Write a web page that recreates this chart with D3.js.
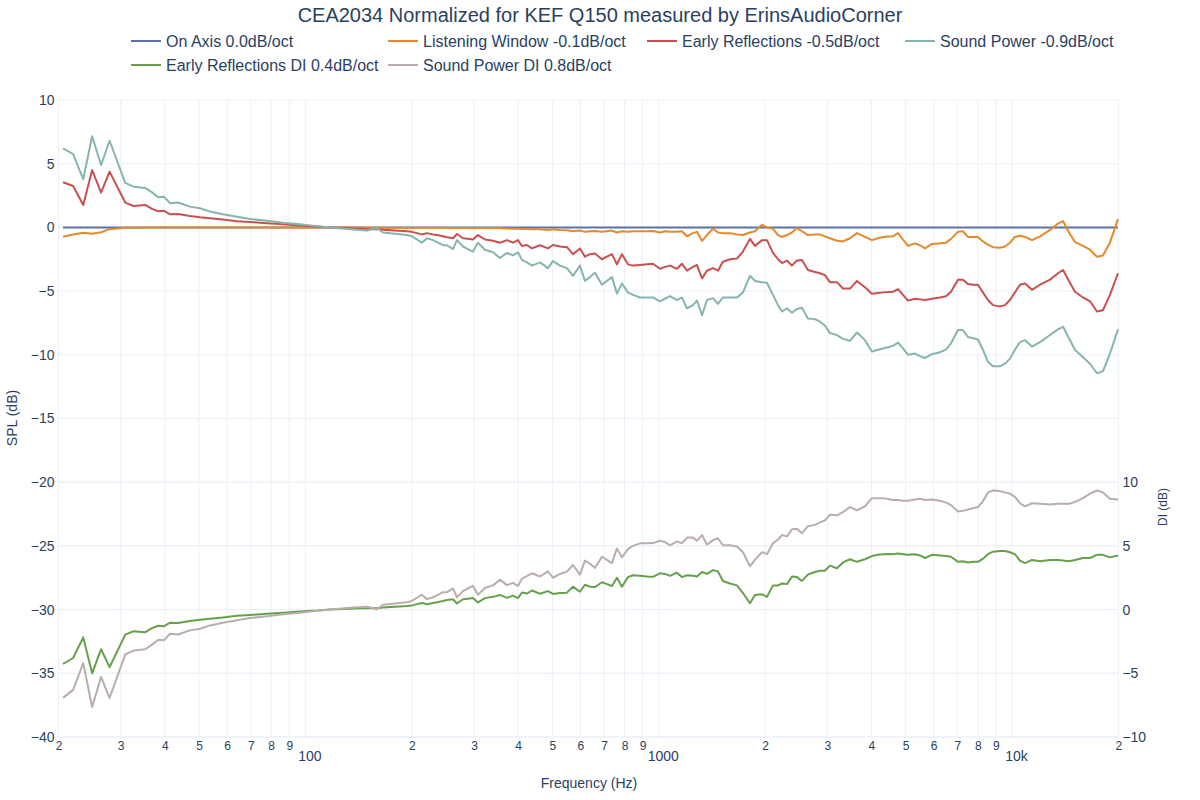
<!DOCTYPE html>
<html><head><meta charset="utf-8">
<script src="https://cdn.jsdelivr.net/npm/d3@7"></script>
<style>
body{margin:0;background:#fff}
svg text{font-family:"Liberation Sans",Arial,Helvetica,sans-serif;fill:#2a3f5f}
</style>
</head><body>
<svg id="chart" width="1200" height="800"></svg>
<script>
const title = "CEA2034 Normalized for KEF Q150 measured by ErinsAudioCorner";
const seriesNames = ["On Axis 0.0dB/oct","Listening Window -0.1dB/oct","Early Reflections -0.5dB/oct","Sound Power -0.9dB/oct","Early Reflections DI 0.4dB/oct","Sound Power DI 0.8dB/oct"];
const seriesColors = ["#5a72a8","#e4892c","#c9504f","#86b5b0","#66a04c","#b9aeab"];

const freq = [20.6,22.0,23.5,24.9,26.4,27.9,30.9,32.6,35.2,36.8,38.3,39.8,41.4,43.6,47.1,50.3,53.7,58.4,64.0,69.7,77.9,86.4,96.5,107.8,117.4,133.7,149.4,159.4,165.8,179.3,
193.8,200.1,206.9,213.6,220.8,229.6,235.7,245.1,251.5,261.6,268.5,279.2,288.4,298.0,307.8,322.2,339.5,355.3,371.9,386.7,399.5,410.1,423.6,437.7,461.1,485.8,501.8,525.3,549.8,571.7,
598.4,618.2,638.7,659.8,690.6,713.5,737.1,761.6,786.7,818.1,845.3,884.8,926.0,962.9,1008,1041,1076,1126,1163,1202,1250,1283,1326,1369,1424,1471,1519,1591,1665,1731,
1812,1872,1960,2025,2105,2175,2233,2307,2382,2461,2543,2644,2768,2860,2954,3052,3194,3322,3477,3639,3834,4013,4174,4312,4455,4603,4756,4913,5076,5313,
5488,5670,5935,6252,6502,6718,7031,7261,7502,7750,8007,8272,8546,8829,9242,9548,9865,10190,10530,10880,11390,12000,12810,13490,13940,14490,15070,15880,16620,17390,
18080,18930,19950];

const onAxisFreq = [20.6, 19950];
const onAxis = [0, 0];

const listeningWindow = [-0.73,-0.55,-0.42,-0.5,-0.38,-0.14,-0.02,-0.02,-0.01,0,0,0,0,0,0,0,0,0,0,0,0,0,0,0,0,0,-0.02,-0.02,-0.02,-0.02,
-0.02,-0.02,-0.02,-0.03,-0.03,-0.03,-0.03,-0.03,-0.03,-0.04,-0.04,-0.04,-0.04,-0.04,-0.04,-0.05,-0.05,-0.05,-0.08,-0.1,-0.1,-0.12,-0.12,-0.15,-0.15,-0.2,-0.15,-0.2,-0.22,-0.3,
-0.25,-0.35,-0.3,-0.28,-0.35,-0.3,-0.25,-0.4,-0.3,-0.35,-0.3,-0.3,-0.3,-0.28,-0.4,-0.3,-0.35,-0.35,-0.3,-0.7,-0.45,-0.35,-1.05,-0.6,-0.1,-0.4,-0.45,-0.45,-0.55,-0.6,
-0.4,-0.3,0.2,0.0,-0.1,-0.6,-0.75,-0.6,-0.4,-0.05,-0.3,-0.6,-0.55,-0.55,-0.7,-0.85,-1.05,-1.1,-0.85,-0.45,-0.75,-1.0,-0.85,-0.75,-0.72,-0.7,-0.45,-0.95,-1.45,-1.25,
-1.4,-1.65,-1.3,-1.25,-1.2,-0.9,-0.35,-0.3,-0.75,-0.75,-0.75,-1.1,-1.35,-1.55,-1.6,-1.5,-1.2,-0.75,-0.65,-0.75,-1.0,-0.7,-0.2,0.3,0.5,-0.4,-1.15,-1.45,-1.75,-2.3,
-2.2,-1.2,0.65];

const earlyReflections = [3.54,3.25,1.76,4.5,2.73,4.38,1.95,1.68,1.76,1.45,1.27,1.3,1.03,1.05,0.9,0.8,0.72,0.62,0.48,0.42,0.33,0.24,0.15,0.08,0,-0.07,-0.15,-0.12,-0.18,-0.25,
-0.3,-0.35,-0.45,-0.55,-0.45,-0.55,-0.6,-0.7,-0.78,-0.85,-0.52,-0.85,-0.9,-0.95,-0.6,-0.95,-1.05,-1.2,-1.0,-1.2,-1.0,-1.46,-1.38,-1.65,-1.4,-1.65,-1.38,-1.5,-1.55,-2.1,
-1.65,-2.3,-2.1,-2.05,-2.5,-2.3,-2.1,-2.9,-2.1,-2.9,-3.0,-2.95,-2.9,-2.85,-3.25,-3.1,-3.0,-3.25,-2.85,-3.4,-3.1,-2.95,-4.0,-3.4,-3.2,-3.4,-2.7,-2.5,-2.45,-1.9,
-0.9,-1.45,-1.0,-1.0,-2.0,-2.5,-2.8,-2.6,-3.0,-2.6,-2.55,-3.35,-3.5,-3.6,-3.75,-4.3,-4.3,-4.8,-4.8,-4.2,-4.7,-5.2,-5.15,-5.1,-5.08,-5.05,-4.85,-5.3,-5.75,-5.6,
-5.65,-5.7,-5.6,-5.5,-5.4,-5.05,-4.1,-4.1,-4.45,-4.5,-4.5,-5.1,-5.7,-6.1,-6.2,-6.1,-5.7,-5.1,-4.5,-4.4,-4.9,-4.5,-4.1,-3.6,-3.35,-4.2,-5.05,-5.5,-5.8,-6.6,
-6.5,-5.3,-3.6];

const soundPower = [6.2,5.75,3.78,7.15,4.9,6.8,3.5,3.2,3.1,2.75,2.37,2.4,1.9,1.95,1.63,1.5,1.24,1.03,0.84,0.66,0.53,0.37,0.24,0.1,0,-0.15,-0.25,-0.05,-0.4,-0.5,
-0.6,-0.7,-0.95,-1.2,-0.85,-1.0,-1.15,-1.4,-1.4,-1.7,-1.0,-1.5,-1.7,-1.9,-1.2,-1.75,-1.95,-2.4,-2.0,-2.2,-1.95,-2.55,-2.75,-3.0,-2.75,-3.2,-2.65,-3.0,-3.2,-3.8,
-3.0,-4.2,-3.9,-3.55,-4.5,-4.2,-3.9,-5.2,-4.4,-5.1,-5.3,-5.5,-5.5,-5.5,-5.8,-5.6,-5.4,-5.7,-5.5,-6.35,-6.1,-5.75,-6.9,-5.7,-5.55,-6.0,-5.5,-5.5,-5.5,-5.1,
-3.8,-4.2,-4.3,-4.35,-5.3,-6.1,-6.6,-6.35,-6.7,-6.4,-6.3,-7.15,-7.2,-7.4,-7.7,-8.3,-8.45,-8.75,-8.9,-8.25,-8.85,-9.75,-9.6,-9.5,-9.4,-9.3,-9.05,-9.5,-10.0,-9.9,
-10.1,-10.25,-9.95,-9.8,-9.6,-9.1,-8.05,-8.05,-8.6,-8.7,-8.8,-9.6,-10.55,-10.9,-10.9,-10.7,-10.3,-9.6,-9.0,-8.85,-9.35,-9.0,-8.45,-8.0,-7.8,-8.7,-9.6,-10.2,-10.7,-11.45,
-11.3,-9.9,-8.0];

const earlyReflectionsDI = [-4.27,-3.8,-2.18,-5.0,-3.11,-4.52,-1.97,-1.7,-1.77,-1.45,-1.27,-1.3,-1.03,-1.05,-0.9,-0.8,-0.72,-0.62,-0.48,-0.42,-0.33,-0.24,-0.15,-0.08,0,0.07,0.13,0.1,0.16,0.23,
0.28,0.33,0.43,0.52,0.42,0.52,0.57,0.67,0.75,0.81,0.48,0.81,0.86,0.91,0.56,0.9,1.0,1.15,0.92,1.1,0.9,1.34,1.26,1.5,1.25,1.45,1.23,1.3,1.33,1.8,
1.4,1.95,1.8,1.77,2.15,2.0,1.85,2.5,1.8,2.55,2.7,2.65,2.6,2.57,2.85,2.8,2.65,2.9,2.55,2.7,2.65,2.6,2.95,2.8,3.1,3.0,2.25,2.05,1.9,1.3,
0.5,1.15,1.2,1.0,1.9,1.9,2.05,2.0,2.6,2.55,2.25,2.75,2.95,3.05,3.05,3.45,3.25,3.7,3.95,3.75,3.95,4.2,4.3,4.35,4.36,4.35,4.4,4.35,4.3,4.35,
4.25,4.05,4.3,4.25,4.2,4.15,3.75,3.8,3.7,3.75,3.75,4.0,4.35,4.55,4.6,4.6,4.5,4.35,3.85,3.65,3.9,3.8,3.9,3.9,3.85,3.8,3.9,4.05,4.05,4.3,
4.3,4.1,4.25];

const soundPowerDI = [-6.93,-6.3,-4.2,-7.65,-5.28,-6.94,-3.52,-3.22,-3.11,-2.75,-2.37,-2.4,-1.9,-1.95,-1.63,-1.5,-1.24,-1.03,-0.84,-0.66,-0.53,-0.37,-0.24,-0.1,0,0.15,0.23,0.03,0.38,0.48,
0.58,0.68,0.93,1.17,0.82,0.97,1.12,1.37,1.37,1.66,0.96,1.46,1.66,1.86,1.16,1.7,1.9,2.35,1.92,2.1,1.85,2.43,2.63,2.85,2.6,3.0,2.5,2.8,2.98,3.5,
2.75,3.85,3.6,3.27,4.15,3.9,3.65,4.8,4.1,4.75,5.0,5.2,5.2,5.22,5.4,5.3,5.05,5.35,5.2,5.65,5.65,5.4,5.85,5.1,5.45,5.6,5.05,5.05,4.95,4.5,
3.4,3.9,4.5,4.35,5.2,5.5,5.85,5.75,6.3,6.35,6.0,6.55,6.65,6.85,7.0,7.45,7.4,7.65,8.05,7.8,8.1,8.75,8.75,8.75,8.68,8.6,8.6,8.55,8.55,8.65,
8.7,8.6,8.65,8.55,8.4,8.2,7.7,7.75,7.85,7.95,8.05,8.5,9.2,9.35,9.3,9.2,9.1,8.85,8.35,8.1,8.35,8.3,8.25,8.3,8.3,8.3,8.45,8.75,9.1,9.35,
9.2,8.7,8.65];

const splTicks = [-40,-35,-30,-25,-20,-15,-10,-5,0,5,10];
const diTicks = [-10,-5,0,5,10];
const xGridFreqs = [20,30,40,50,60,70,80,90,100,200,300,400,500,600,700,800,900,1000,2000,3000,4000,5000,6000,7000,8000,9000,10000,20000];
const xMinorLabelFreqs = [20,30,40,50,60,70,80,90,200,300,400,500,600,700,800,900,2000,3000,4000,5000,6000,7000,8000,9000,20000];
const xMajorLabelFreqs = [100,1000,10000];
const xMajorLabels = ["100","1000","10k"];

const svg = d3.select("#chart");
const L = 58.5, R = 1118.4, T = 100, B = 737;
const x = d3.scaleLog().domain([20,20000]).range([L,R]);
const y = d3.scaleLinear().domain([-40,10]).range([B,T]);
const yDI = d3.scaleLinear().domain([-10,10]).range([B, y(-20)]);
const gridColor = "#ebf0f8";

// grid
svg.append("g").selectAll("line").data(xGridFreqs).join("line")
  .attr("x1", d=>x(d)).attr("x2", d=>x(d)).attr("y1", T).attr("y2", B)
  .attr("stroke", gridColor).attr("stroke-width", 1);
svg.append("g").selectAll("line").data(splTicks).join("line")
  .attr("x1", L).attr("x2", R).attr("y1", d=>y(d)).attr("y2", d=>y(d))
  .attr("stroke", gridColor).attr("stroke-width", 1);
svg.append("g").selectAll("line").data(diTicks).join("line")
  .attr("x1", L).attr("x2", R).attr("y1", d=>yDI(d)).attr("y2", d=>yDI(d))
  .attr("stroke", gridColor).attr("stroke-width", 1);

// axes
const gl = svg.append("g").attr("transform", `translate(${L},0)`)
  .call(d3.axisLeft(y).tickValues(splTicks).tickSize(0).tickPadding(4));
gl.select(".domain").remove();
gl.selectAll("text").attr("font-size", 14).style("font-family", null);

const gr = svg.append("g").attr("transform", `translate(${R},0)`)
  .call(d3.axisRight(yDI).tickValues(diTicks).tickSize(0).tickPadding(4));
gr.select(".domain").remove();
gr.selectAll("text").attr("font-size", 14).style("font-family", null);

const gb = svg.append("g").attr("transform", `translate(0,${B})`)
  .call(d3.axisBottom(x).tickValues(xMinorLabelFreqs).tickSize(0).tickPadding(4)
    .tickFormat(d => String(Math.round(d / Math.pow(10, Math.floor(Math.log10(d)+1e-9))))));
gb.select(".domain").remove();
gb.selectAll("text").attr("font-size", 12).style("font-family", null);

const gm = svg.append("g").attr("transform", `translate(0,${B})`)
  .call(d3.axisBottom(x).tickValues(xMajorLabelFreqs).tickSize(0).tickPadding(14)
    .tickFormat((d,i) => xMajorLabels[i]));
gm.select(".domain").remove();
gm.selectAll("text").attr("font-size", 14).attr("dx", 4).style("font-family", null);

svg.selectAll(".tick text").attr("fill", "#2a3f5f");

// axis titles
svg.append("text").attr("x", 589).attr("y", 788).attr("text-anchor", "middle")
  .attr("font-size", 14).text("Frequency (Hz)");
svg.append("text").attr("transform", "translate(17,418) rotate(-90)").attr("text-anchor", "middle")
  .attr("font-size", 14).text("SPL (dB)");
svg.append("text").attr("transform", "translate(1167,507) rotate(-90)").attr("text-anchor", "middle")
  .attr("font-size", 12).text("DI (dB)");

// lines
const lineSPL = d3.line().x(d=>x(d[0])).y(d=>y(d[1]));
const lineDI = d3.line().x(d=>x(d[0])).y(d=>yDI(d[1]));
const series = [
  {pts: d3.zip(onAxisFreq, onAxis), gen: lineSPL},
  {pts: d3.zip(freq, listeningWindow), gen: lineSPL},
  {pts: d3.zip(freq, earlyReflections), gen: lineSPL},
  {pts: d3.zip(freq, soundPower), gen: lineSPL},
  {pts: d3.zip(freq, earlyReflectionsDI), gen: lineDI},
  {pts: d3.zip(freq, soundPowerDI), gen: lineDI}
];
svg.append("g").selectAll("path").data(series).join("path")
  .attr("d", d => d.gen(d.pts))
  .attr("fill", "none")
  .attr("stroke", (d,i) => seriesColors[i])
  .attr("stroke-width", 2)
  .attr("stroke-linejoin", "round");

// title
svg.append("text").attr("x", 600).attr("y", 22).attr("text-anchor", "middle")
  .attr("font-size", 20).text(title);

// legend
const legendPos = [[131,41],[388,41],[647,41],[905,41],[131,65],[388,65]];
const lg = svg.append("g").selectAll("g").data(seriesNames).join("g")
  .attr("transform", (d,i) => `translate(${legendPos[i][0]},${legendPos[i][1]})`);
lg.append("line").attr("x1", 0).attr("x2", 30).attr("y1", 0).attr("y2", 0)
  .attr("stroke", (d,i) => seriesColors[i]).attr("stroke-width", 2);
lg.append("text").attr("x", 35).attr("y", 0).attr("dy", "0.35em")
  .attr("font-size", 16).text(d => d);
</script>
</body></html>
